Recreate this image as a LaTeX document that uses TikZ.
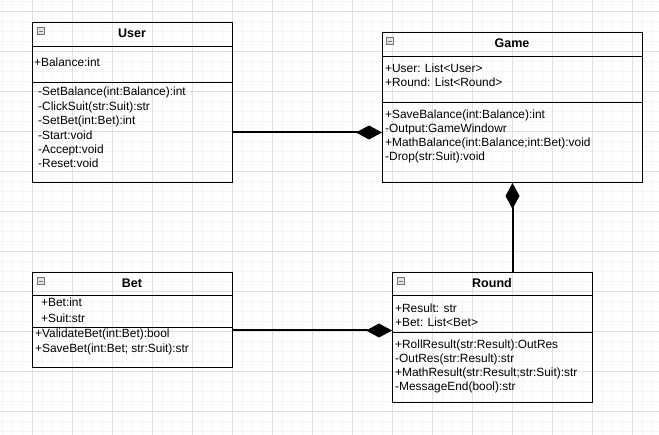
\documentclass[tikz,border=0pt]{standalone}
\usepackage{fontspec}
\setmainfont{Liberation Sans}
\usetikzlibrary{arrows.meta}
\tikzset{
  classbox/.style={draw, line width=1pt, anchor=north west, inner sep=0},
  classname/.style={font=\fontsize{12.5}{14}\selectfont\bfseries, inner sep=0},
  member/.style={font=\fontsize{11.9}{13}\selectfont, anchor=west, inner sep=0, text height=8.5pt, text depth=2.5pt},
  foldbox/.style={draw=black!55, fill=black!10, minimum size=7pt, inner sep=0, line width=0.6pt,
    path picture={\draw[line width=0.9pt] ([xshift=1.6pt]path picture bounding box.west) -- ([xshift=-1.6pt]path picture bounding box.east);}},
  comp/.style={line width=2pt, -{Diamond[length=26pt,width=14pt]}},
  minorgrid/.style={black!4, line width=1pt},
  majorgrid/.style={black!12, line width=1pt}
}
\begin{document}
\begin{tikzpicture}[x=1pt,y=-1pt]
\useasboundingbox (0,0) rectangle (659,435);
\fill[white] (0,0) rectangle (659,435);
% grid
\foreach \x in {2,12,...,652} \draw[minorgrid] (\x,0) -- (\x,435);
\foreach \y in {2,12,...,432} \draw[minorgrid] (0,\y) -- (659,\y);
\foreach \x in {32,72,...,632} \draw[majorgrid] (\x,0) -- (\x,435);
\foreach \y in {12,52,...,412} \draw[majorgrid] (0,\y) -- (659,\y);

% User
\node[classbox, minimum width=200pt, minimum height=160pt] (user) at (32,22) {};
\node[foldbox] (userfold) at (41,31) {};
\node[classname] (usertitle) at (132,33) {User};
\draw (user.west |- 0,46) -- (user.east |- 0,46);
\draw (user.west |- 0,82) -- (user.east |- 0,82);
\node[member] (ua1) at (34,64) {+Balance:int};
\foreach \t [count=\i] in {-SetBalance(int:Balance):int, -ClickSuit(str:Suit):str, -SetBet(int:Bet):int, -Start:void, -Accept:void, -Reset:void}
  \node[member] (um\i) at (38,78.6+14.4*\i) {\t};

% Game
\node[classbox, minimum width=260pt, minimum height=150pt] (game) at (382,32) {};
\node[foldbox] (gamefold) at (390,41) {};
\node[classname] (gametitle) at (512,43) {Game};
\draw (game.west |- 0,56) -- (game.east |- 0,56);
\draw (game.west |- 0,102) -- (game.east |- 0,102);
\node[member] (ga1) at (385,70) {+User: List<User>};
\node[member] (ga2) at (385,84) {+Round: List<Round>};
\foreach \t [count=\i] in {+SaveBalance(int:Balance):int, -Output:GameWindowr, +MathBalance(int:Balance;int:Bet):void, -Drop(str:Suit):void}
  \node[member] (gm\i) at (385,102+14*\i) {\t};

% Bet
\node[classbox, minimum width=200pt, minimum height=95pt] (bet) at (32,272) {};
\node[foldbox] (betfold) at (41,281) {};
\node[classname] (bettitle) at (132,283) {Bet};
\draw (bet.west |- 0,295) -- (bet.east |- 0,295);
\draw (bet.west |- 0,327) -- (bet.east |- 0,327);
\node[member] (ba1) at (41,304) {+Bet:int};
\node[member] (ba2) at (41,320) {+Suit:str};
\node[member] (bm1) at (35,335) {+ValidateBet(int:Bet):bool};
\node[member] (bm2) at (35,350) {+SaveBet(int:Bet; str:Suit):str};

% Round
\node[classbox, minimum width=200pt, minimum height=130pt] (round) at (392,272) {};
\node[foldbox] (roundfold) at (401,281) {};
\node[classname] (roundtitle) at (492,283) {Round};
\draw (round.west |- 0,295) -- (round.east |- 0,295);
\draw (round.west |- 0,332) -- (round.east |- 0,332);
\node[member] (ra1) at (395,310) {+Result: str};
\node[member] (ra2) at (395,324) {+Bet: List<Bet>};
\foreach \t [count=\i] in {+RollResult(str:Result):OutRes, -OutRes(str:Result):str, +MathResult(str:Result;str:Suit):str, -MessageEnd(bool):str}
  \node[member] (rm\i) at (395,332+14*\i) {\t};

% compositions
\draw[comp] ([yshift=-30pt]user.east) -- ([yshift=-25pt]game.west);
\draw[comp] ([yshift=-10.5pt]bet.east) -- ([yshift=7pt]round.west);
\draw[comp] (round.north -| game.south) -- (game.south);
\end{tikzpicture}
\end{document}
